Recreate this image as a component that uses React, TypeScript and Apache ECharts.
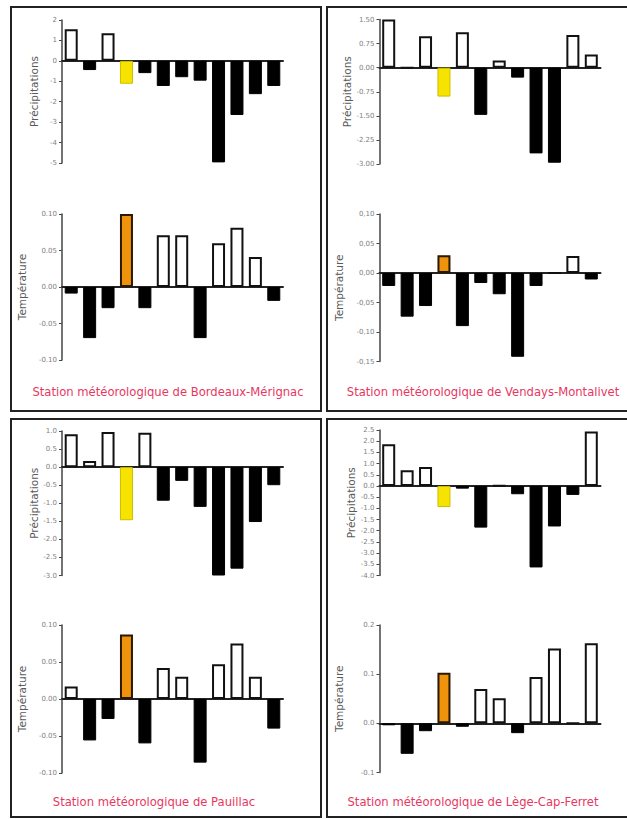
import React, { useEffect, useRef } from "react";
import * as echarts from "echarts";

// 12 periods, the 4th one is highlighted
const periods = ["1", "2", "3", "4", "5", "6", "7", "8", "9", "10", "11", "12"];
const highlightIndex = 3;

const stationNames = [
  "Station météorologique de Bordeaux-Mérignac",
  "Station météorologique de Vendays-Montalivet",
  "Station météorologique de Pauillac",
  "Station météorologique de Lège-Cap-Ferret",
];

const bordeauxPrecip = [1.55, -0.45, 1.35, -1.12, -0.6, -1.23, -0.8, -0.97, -4.97, -2.65, -1.63, -1.23];
const bordeauxTemp = [-0.009, -0.07, -0.029, 0.1, -0.029, 0.071, 0.071, -0.07, 0.06, 0.081, 0.041, -0.019];
const vendaysPrecip = [1.5, 0, 0.98, -0.9, 1.1, -1.47, 0.22, -0.31, -2.67, -2.96, 1.02, 0.41];
const vendaysTemp = [-0.022, -0.074, -0.056, 0.03, -0.09, -0.017, -0.036, -0.142, -0.022, 0, 0.029, -0.011];
const pauillacPrecip = [0.91, 0.17, 0.97, -1.47, 0.95, -0.93, -0.38, -1.1, -3.0, -2.81, -1.52, -0.5];
const pauillacTemp = [0.017, -0.056, -0.027, 0.087, -0.06, 0.042, 0.03, -0.086, 0.047, 0.075, 0.03, -0.04];
const legePrecip = [1.86, 0.7, 0.85, -0.94, -0.12, -1.86, 0.02, -0.37, -3.64, -1.81, -0.4, 2.43];
const legeTemp = [-0.004, -0.062, -0.016, 0.103, -0.007, 0.07, 0.051, -0.02, 0.094, 0.152, 0, 0.163];

const precipName = "Précipitations";
const tempName = "Température";

const clean = (v: number) => (Math.abs(v) < 1e-9 ? 0 : v);
const fmt = (d: number, comma = false) => (v: number) => {
  const s = clean(v).toFixed(d);
  return comma ? s.replace(".", ",") : s;
};

type Chart = {
  values: number[];
  kind: "precip" | "temp";
  left: number;
  top: number;
  height: number;
  min: number;
  max: number;
  interval: number;
  formatter: (v: number) => string;
};

const charts: Chart[] = [
  { values: bordeauxPrecip, kind: "precip", left: 62, top: 20, height: 143, min: -5, max: 2, interval: 1, formatter: fmt(0) },
  { values: bordeauxTemp, kind: "temp", left: 62, top: 214, height: 146, min: -0.1, max: 0.1, interval: 0.05, formatter: fmt(2) },
  { values: vendaysPrecip, kind: "precip", left: 379.5, top: 19.5, height: 144.5, min: -3, max: 1.5, interval: 0.75, formatter: fmt(2) },
  { values: vendaysTemp, kind: "temp", left: 379.5, top: 214, height: 147.5, min: -0.15, max: 0.1, interval: 0.05, formatter: fmt(2, true) },
  { values: pauillacPrecip, kind: "precip", left: 62, top: 431, height: 144.5, min: -3, max: 1, interval: 0.5, formatter: fmt(1) },
  { values: pauillacTemp, kind: "temp", left: 62, top: 625, height: 148, min: -0.1, max: 0.1, interval: 0.05, formatter: fmt(2) },
  { values: legePrecip, kind: "precip", left: 379.5, top: 430, height: 145.5, min: -4, max: 2.5, interval: 0.5, formatter: fmt(1) },
  { values: legeTemp, kind: "temp", left: 379.5, top: 625, height: 147.5, min: -0.1, max: 0.2, interval: 0.1, formatter: fmt(1) },
];

const labelPos = [
  { x: 168, y: 392 },
  { x: 483, y: 392 },
  { x: 154, y: 802 },
  { x: 473, y: 802 },
];

const panelRects = [
  { x: 11, y: 7, w: 310, h: 404 },
  { x: 327, y: 7, w: 310, h: 404 },
  { x: 11, y: 419, w: 310, h: 398 },
  { x: 327, y: 419, w: 310, h: 398 },
];

function styleData(values: number[], kind: "precip" | "temp") {
  return values.map((v, i) => {
    let itemStyle: any;
    if (i === highlightIndex) {
      itemStyle =
        kind === "precip"
          ? { color: "#f6e300", borderColor: "#cdbd00", borderWidth: 1 }
          : { color: "#ef920c", borderColor: "#2a1800", borderWidth: 2 };
    } else if (v >= 0) {
      itemStyle = { color: "#ffffff", borderColor: "#111111", borderWidth: 2 };
    } else {
      itemStyle = { color: "#000000", borderColor: "#000000", borderWidth: 1 };
    }
    return { value: v, itemStyle };
  });
}

export default function App() {
  const ref = useRef<HTMLDivElement>(null);
  useEffect(() => {
    if (!ref.current) return;
    const chart = echarts.init(ref.current, undefined, { renderer: "svg" });
    const option: any = {
      animation: false,
      backgroundColor: "#ffffff",
      grid: charts.map((c) => ({ left: c.left, top: c.top, width: 221, height: c.height, containLabel: false })),
      xAxis: charts.map((c, i) => ({
        type: "category",
        gridIndex: i,
        data: periods,
        axisLine: { show: true, onZero: true, lineStyle: { color: "#222", width: 2 } },
        axisTick: { show: false },
        axisLabel: { show: false },
        splitLine: { show: false },
      })),
      yAxis: charts.map((c, i) => ({
        type: "value",
        gridIndex: i,
        min: c.min,
        max: c.max,
        interval: c.interval,
        name: c.kind === "precip" ? precipName : tempName,
        nameLocation: "middle",
        nameGap: c.kind === "precip" ? 23 : 35,
        nameTextStyle: { color: "#5a5a5a", fontSize: 10.5, fontFamily: "DejaVu Sans" },
        axisLine: { show: true, lineStyle: { color: "#444", width: 1.5 } },
        axisTick: { show: true, inside: false, length: 3, lineStyle: { color: "#444", width: 1 } },
        axisLabel: { color: "#808080", fontSize: 7, fontFamily: "DejaVu Sans", margin: 5, formatter: c.formatter },
        splitLine: { show: false },
      })),
      series: charts.map((c, i) => ({
        type: "bar",
        xAxisIndex: i,
        yAxisIndex: i,
        barWidth: 13,
        data: styleData(c.values, c.kind),
      })),
      graphic: [
        ...panelRects.map((r) => ({
          type: "rect",
          shape: { x: r.x, y: r.y, width: r.w, height: r.h },
          style: { fill: "none", stroke: "#222", lineWidth: 2 },
          silent: true,
        })),
        ...stationNames.map((name, i) => ({
          type: "text",
          x: labelPos[i].x,
          y: labelPos[i].y,
          style: {
            text: name,
            fill: "#e8375f",
            fontSize: 11.6,
            fontFamily: "DejaVu Sans",
            textAlign: "center",
            textVerticalAlign: "middle",
          },
          silent: true,
        })),
      ],
    };
    chart.setOption(option);
    return () => chart.dispose();
  }, []);
  return (
    <div
      ref={ref}
      style={{ position: "absolute", left: 0, top: 0, width: 627, height: 819, background: "#fff" }}
    />
  );
}
